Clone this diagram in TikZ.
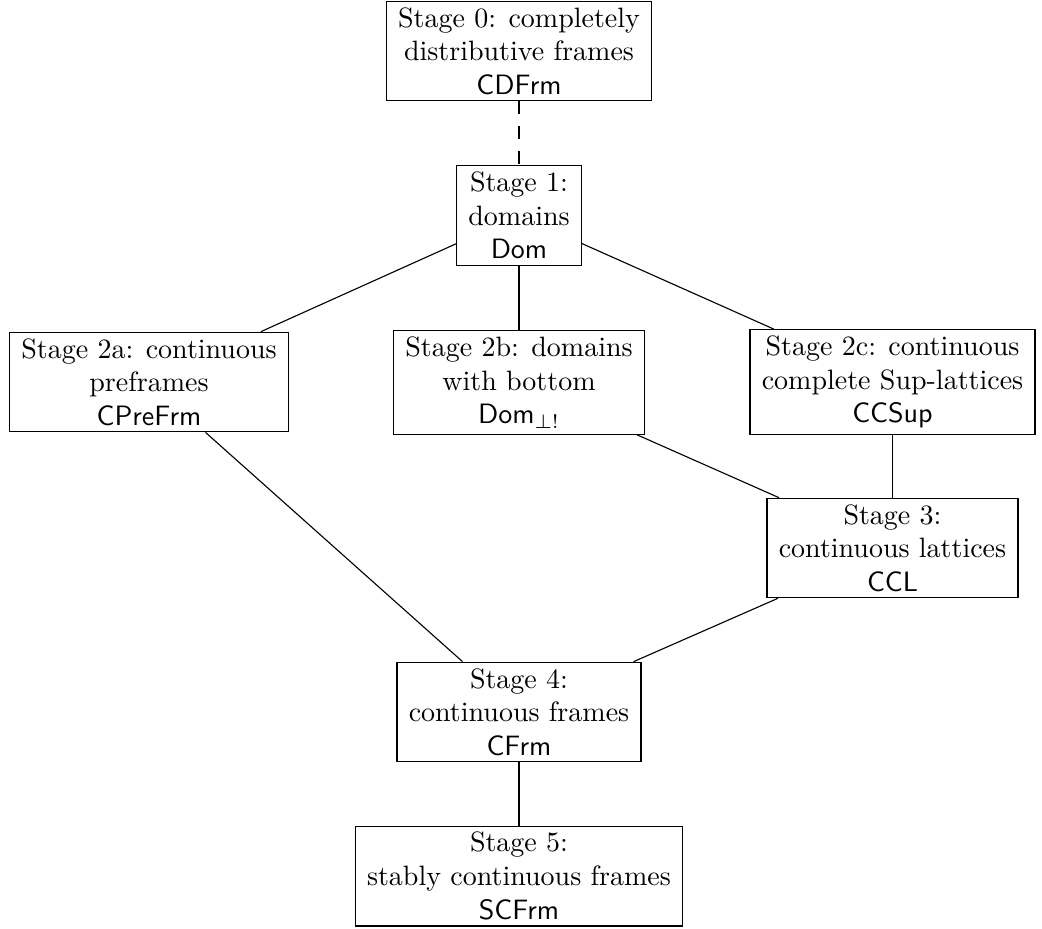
\documentclass[tikz,border=0pt]{standalone}
\begin{document}
\begin{tikzpicture}[x=0.357143pt,y=-0.357143pt,
  stagebox/.style={draw, align=center, inner xsep=4.2pt, inner ysep=2.2pt, line width=0.4pt},
  edge/.style={line width=0.4pt},
  dashedge/.style={line width=0.4pt, dash pattern=on 4.6pt off 4.3pt}]
\useasboundingbox (0,0) rectangle (1042,929);
\node[stagebox] (s0) at (519,51) {Stage 0: completely\\distributive frames\\\textsf{CDFrm}};
\node[stagebox] (s1) at (519,215.5) {Stage 1:\\domains\\\textsf{Dom}};
\node[stagebox] (s2a) at (149,382) {Stage 2a: continuous\\preframes\\\textsf{CPreFrm}};
\node[stagebox] (s2b) at (519,382.5) {Stage 2b: domains\\with bottom\\\textsf{Dom}$_{\bot !}$};
\node[stagebox] (s2c) at (892.5,382) {Stage 2c: continuous\\complete Sup-lattices\\\textsf{CCSup}};
\node[stagebox] (s3) at (892.5,548) {Stage 3:\\continuous lattices\\\textsf{CCL}};
\node[stagebox] (s4) at (519,712) {Stage 4:\\continuous frames\\\textsf{CFrm}};
\node[stagebox] (s5) at (519,876) {Stage 5:\\stably continuous frames\\\textsf{SCFrm}};
\draw[dashedge] (s0) -- (s1);
\draw[edge] (s1) -- (s2a);
\draw[edge] (s1) -- (s2b);
\draw[edge] (s1) -- (s2c);
\draw[edge] (s2a) -- (s4);
\draw[edge] (s2b) -- (s3);
\draw[edge] (s2c) -- (s3);
\draw[edge] (s3) -- (s4);
\draw[edge] (s4) -- (s5);
\end{tikzpicture}
\end{document}
